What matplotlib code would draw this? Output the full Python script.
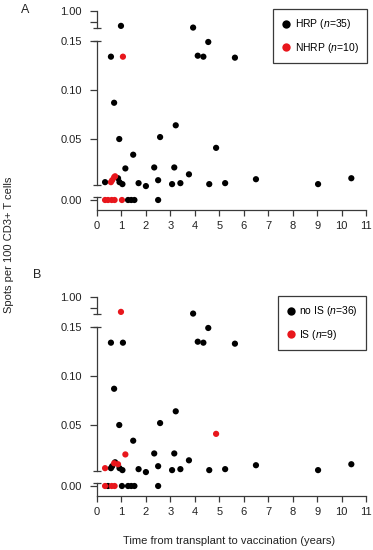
import matplotlib
matplotlib.use('Agg')
import matplotlib.pyplot as plt
from matplotlib.lines import Line2D

plt.rcParams['font.family'] = ['Liberation Sans', 'DejaVu Sans']
plt.rcParams['mathtext.fontset'] = 'custom'
plt.rcParams['mathtext.rm'] = 'Liberation Sans'
plt.rcParams['mathtext.it'] = 'Liberation Sans:italic'

# Data
# years from transplant to vaccination, spots per 100 CD3+ T cells
# (values above 0.15 sit on the upper "1.00" segment)
years = [0.98, 3.93, 0.57, 1.06, 4.55, 4.12, 4.35, 5.64, 0.70, 0.91,
         2.58, 3.22, 4.87, 1.48, 1.16, 2.34, 3.16, 3.76, 0.33, 0.86,
         0.92, 1.04, 1.70, 2.00, 2.50, 3.07, 3.41, 4.59, 5.24, 6.50,
         9.04, 10.40, 0.57, 0.62, 0.70, 0.74, 0.33, 0.45, 0.60, 0.72,
         1.02, 1.27, 1.40, 1.53, 2.50]
spots = [0.30, 0.22, 0.134, 0.134, 0.149, 0.135, 0.134, 0.133, 0.087, 0.050,
         0.052, 0.064, 0.041, 0.034, 0.020, 0.021, 0.021, 0.014, 0.006, 0.010,
         0.006, 0.004, 0.005, 0.002, 0.008, 0.004, 0.005, 0.004, 0.005, 0.009,
         0.004, 0.010, 0.006, 0.008, 0.011, 0.012, 0.0, 0.0, 0.0, 0.0,
         0.0, 0.0, 0.0, 0.0, 0.0]
# panel A group: 1 = HRP, 0 = NHRP
hrp = [1, 1, 1, 0, 1, 1, 1, 1, 1, 1,
       1, 1, 1, 1, 1, 1, 1, 1, 1, 1,
       1, 1, 1, 1, 1, 1, 1, 1, 1, 1,
       1, 1, 0, 0, 0, 0, 0, 0, 0, 0,
       0, 1, 1, 1, 1]
# panel B group: 1 = no IS, 0 = IS
no_is = [0, 1, 1, 1, 1, 1, 1, 1, 1, 1,
         1, 1, 0, 1, 0, 1, 1, 1, 0, 0,
         1, 1, 1, 1, 1, 1, 1, 1, 1, 1,
         1, 1, 1, 1, 0, 1, 0, 1, 0, 0,
         1, 1, 1, 1, 1]

labels_A = ['HRP ($\\mathit{n}$=35)', 'NHRP ($\\mathit{n}$=10)']
labels_B = ['no IS ($\\mathit{n}$=36)', 'IS ($\\mathit{n}$=9)']

RED = '#e8161c'
AXC = '#3a3a3a'
W, H = 373, 550

fig = plt.figure(figsize=(W/100, H/100), dpi=100)


def fy(px):
    return 1 - px/H


def panel(off, group, labels, letter, letter_xy, leg_xy):
    left, width = 97/W, 269/W
    ax_top = fig.add_axes([left, fy(28+off), width, 17/H])
    ax_mid = fig.add_axes([left, fy(185+off), width, 144/H])
    ax_bot = fig.add_axes([left, fy(210+off), width, 13/H])

    ax_top.set_ylim(0.2, 1.0)
    ax_mid.set_ylim(0.0031, 0.15)
    ax_bot.set_ylim(-0.010, 0.003)
    for ax in (ax_top, ax_mid, ax_bot):
        ax.set_xlim(0, 11)
        ax.patch.set_visible(False)
        for s in ('top', 'right'):
            ax.spines[s].set_visible(False)
        ax.spines['left'].set_color(AXC)
        ax.spines['left'].set_linewidth(0.9)
        ax.tick_params(axis='y', direction='out', length=5, width=0.9,
                       color=AXC, labelsize=8, pad=6, labelcolor='#222222')
    for ax in (ax_top, ax_mid):
        ax.spines['bottom'].set_visible(False)
        ax.set_xticks([])

    ax_top.set_yticks([0.5, 1.0], ['', '1.00'])
    ax_mid.set_yticks([0.05, 0.10, 0.15], ['0.05', '0.10', '0.15'])
    ax_bot.set_yticks([0.0], ['0.00'])
    ax_bot.set_xticks(range(12))
    ax_bot.spines['bottom'].set_color(AXC)
    ax_bot.spines['bottom'].set_linewidth(0.9)
    ax_bot.tick_params(axis='x', direction='out', length=4, width=0.9,
                       color=AXC, labelsize=8, pad=4, labelcolor='#222222')

    # end caps of the broken axis
    for ax, yy in ((ax_top, 0), (ax_mid, 1), (ax_mid, 0), (ax_bot, 1)):
        ax.plot(0, yy, marker='_', markersize=6, mew=0.9, color=AXC,
                transform=ax.transAxes, clip_on=False)

    for g, col in ((1, 'black'), (0, RED)):
        for ax, sel in ((ax_top, lambda v: v > 0.16),
                        (ax_mid, lambda v: 0 < v <= 0.16),
                        (ax_bot, lambda v: v == 0)):
            xs = [x for x, y, k in zip(years, spots, group) if k == g and sel(y)]
            ys = [y for x, y, k in zip(years, spots, group) if k == g and sel(y)]
            if xs:
                ax.scatter(xs, ys, s=20, color=col, edgecolors='none',
                           clip_on=False, zorder=3)

    handles = [Line2D([], [], ls='none', marker='o', ms=6, color='black', mec='none'),
               Line2D([], [], ls='none', marker='o', ms=6, color=RED, mec='none')]
    leg = fig.legend(handles, labels, loc='upper right',
                     bbox_to_anchor=(leg_xy[0]/W, fy(leg_xy[1])),
                     bbox_transform=fig.transFigure, fontsize=7.5,
                     frameon=True, fancybox=False, framealpha=1,
                     edgecolor=AXC, borderpad=0.8, labelspacing=0.9,
                     handlelength=0.9, handletextpad=0.35, borderaxespad=0)
    leg.get_frame().set_linewidth(0.9)
    fig.text(letter_xy[0]/W, fy(letter_xy[1]), letter, ha='center',
             va='center', fontsize=9, color='#222222')


panel(0, hrp, labels_A, 'A', (25, 10), (367, 9))
panel(286, no_is, labels_B, 'B', (37, 275), (366, 296))

fig.text(9/W, fy(245), 'Spots per 100 CD3+ T cells', rotation=90,
         ha='center', va='center', fontsize=8, color='#222222')
fig.text(229/W, fy(541), 'Time from transplant to vaccination (years)',
         ha='center', va='center', fontsize=8, color='#222222')

fig.savefig('out.png', dpi=100)
